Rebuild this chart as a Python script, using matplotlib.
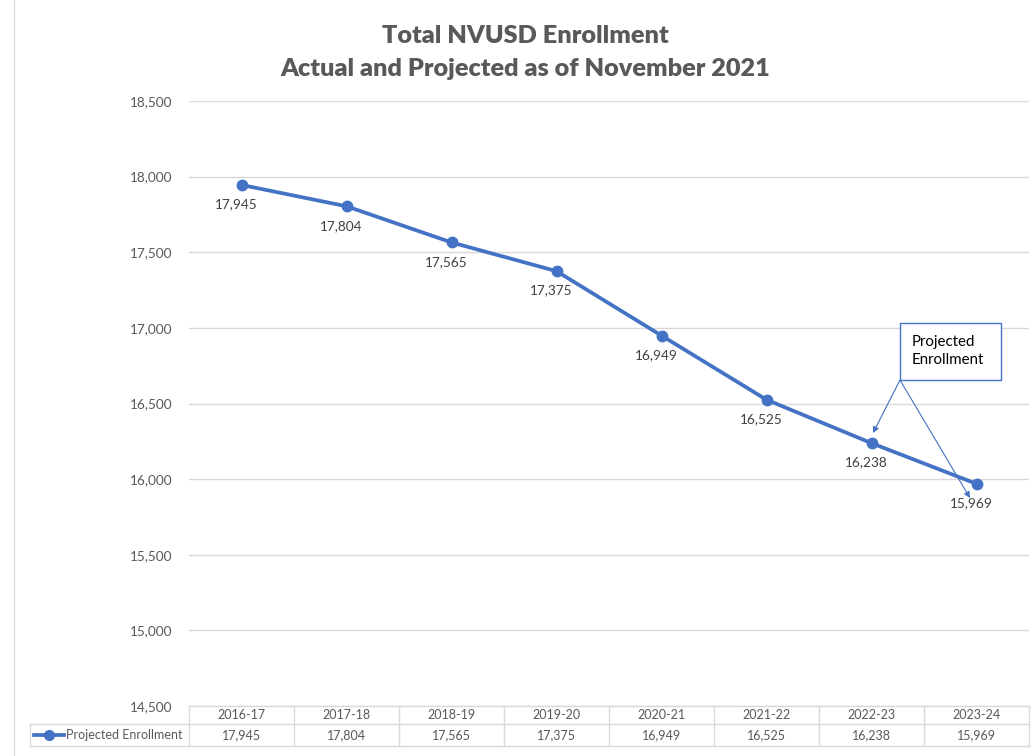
import matplotlib
matplotlib.use("Agg")
import matplotlib.pyplot as plt
from matplotlib.lines import Line2D
from matplotlib.patches import Rectangle

years = ["2016-17", "2017-18", "2018-19", "2019-20", "2020-21", "2021-22", "2022-23", "2023-24"]
enrollment = [17945, 17804, 17565, 17375, 16949, 16525, 16238, 15969]
series_name = "Projected Enrollment"
yticks = [14500, 15000, 15500, 16000, 16500, 17000, 17500, 18000, 18500]
title = "Total NVUSD Enrollment\nActual and Projected as of November 2021"

W, H = 1034, 756
plt.rcParams['font.family'] = ['Lato', 'DejaVu Sans']
fig = plt.figure(figsize=(W / 100, H / 100), dpi=100)

def fx(px):
    return px / W

def fy(py):
    return 1 - py / H

blue = "#4472C4"
gray = "#595959"
grid = "#D9D9D9"

left, right, top, bottom = 189, 1029, 101, 706
ax = fig.add_axes([fx(left), fy(bottom), fx(right) - fx(left), fy(top) - fy(bottom)])
n = len(years)
xs = list(range(n))
ax.plot(xs, enrollment, color=blue, lw=2.7, marker="o", ms=7.5, zorder=3, solid_capstyle="round")
ax.set_xlim(-0.5, n - 0.5)
ax.set_ylim(14500, 18500)
ax.set_yticks(yticks)
ax.set_yticklabels([f"{v:,}" for v in yticks], color=gray, fontsize=9.8)
ax.tick_params(axis="y", length=0, pad=12)
ax.set_xticks([])
ax.yaxis.grid(True, color=grid, lw=1)
ax.set_axisbelow(True)
for s in ax.spines.values():
    s.set_visible(False)

for x, v in zip(xs, enrollment):
    ax.annotate(f"{v:,}", (x, v), xytext=(-4, -14), textcoords="offset points",
                ha="center", va="center", fontsize=9.8, color="#404040")

# title
lines = title.split("\n")
fig.text(fx(525), fy(36), lines[0], ha="center", va="center",
         fontsize=18.2, fontweight="heavy", color=gray)
fig.text(fx(525), fy(69), lines[1], ha="center", va="center",
         fontsize=18.2, fontweight="heavy", color=gray)

# outer chart border
fig.add_artist(Line2D([fx(14), fx(14)], [fy(0), fy(756)], color=grid, lw=1))

# data table
row1_top, row_mid, row_bot = 706, 724, 746
tbl_left = 30
col_w = (right - left) / n
lc = grid
fig.add_artist(Line2D([fx(left), fx(right)], [fy(row1_top), fy(row1_top)], color=lc, lw=1))
fig.add_artist(Line2D([fx(tbl_left), fx(right)], [fy(row_mid), fy(row_mid)], color=lc, lw=1))
fig.add_artist(Line2D([fx(tbl_left), fx(right)], [fy(row_bot), fy(row_bot)], color=lc, lw=1))
fig.add_artist(Line2D([fx(tbl_left), fx(tbl_left)], [fy(row_mid), fy(row_bot)], color=lc, lw=1))
for i in range(n + 1):
    xp = left + i * col_w
    fig.add_artist(Line2D([fx(xp), fx(xp)], [fy(row1_top), fy(row_bot)], color=lc, lw=1))
for i, (yr, v) in enumerate(zip(years, enrollment)):
    cx = left + (i + 0.5) * col_w
    fig.text(fx(cx), fy((row1_top + row_mid) / 2), yr, ha="center", va="center", fontsize=9, color=gray)
    fig.text(fx(cx), fy((row_mid + row_bot) / 2), f"{v:,}", ha="center", va="center", fontsize=9, color=gray)
# legend key in table
ly = fy((row_mid + row_bot) / 2)
fig.add_artist(Line2D([fx(34), fx(64)], [ly, ly], color=blue, lw=2.7, marker=None))
fig.add_artist(Line2D([fx(49)], [ly], color=blue, marker="o", ms=7, lw=0))
fig.text(fx(66), ly, series_name, ha="left", va="center", fontsize=9, color=gray)

# callout box
bx0, by0, bx1, by1 = 900, 323, 1001, 380
fig.add_artist(Rectangle((fx(bx0), fy(by1)), fx(bx1) - fx(bx0), fy(by0) - fy(by1),
                         transform=fig.transFigure, fill=True, facecolor="white",
                         edgecolor=blue, lw=1, zorder=5))
fig.text(fx(912), fy(351), "Projected\nEnrollment", ha="left", va="center", fontsize=10.8,
         color="black", linespacing=1.45, zorder=6)
for tx, ty in [(873, 433), (970, 498)]:
    ax.annotate("", xy=(fx(tx), fy(ty)), xytext=(fx(bx0), fy(by1)),
                xycoords="figure fraction", textcoords="figure fraction",
                arrowprops=dict(arrowstyle="-|>", color=blue, lw=0.8, mutation_scale=9,
                                shrinkA=0, shrinkB=0), zorder=6)

fig.savefig("out.png", dpi=100, facecolor="white")
